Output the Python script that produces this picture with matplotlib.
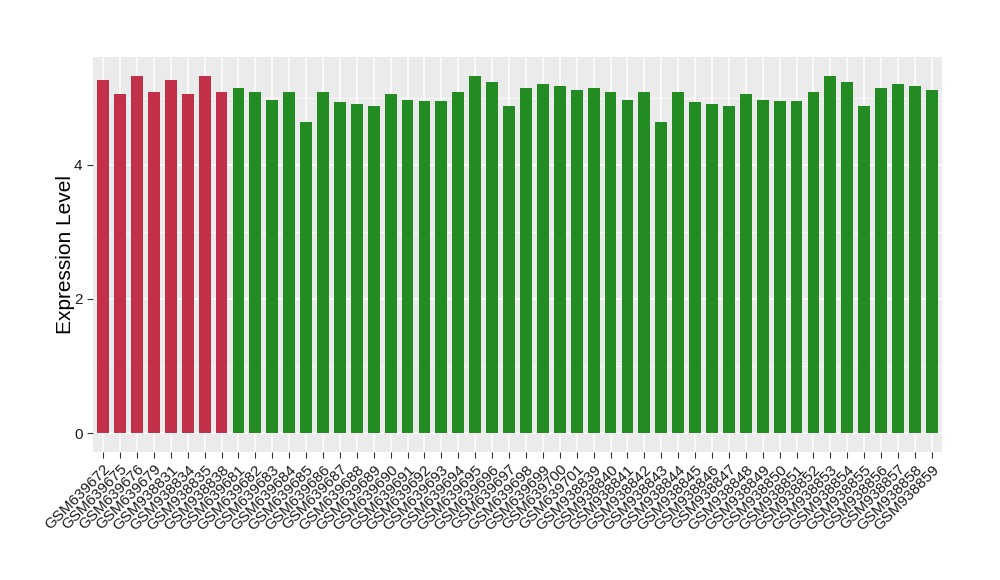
import matplotlib
matplotlib.use("Agg")
import matplotlib.pyplot as plt
import numpy as np

plt.rcParams['font.family'] = ['Liberation Sans', 'DejaVu Sans']

# sample ids
samples = ["GSM639672", "GSM639675", "GSM639676", "GSM639679",
           "GSM938831", "GSM938834", "GSM938835", "GSM938838"]
samples += ["GSM6396%02d" % i for i in range(81, 100)] + ["GSM639700", "GSM639701"]
samples += ["GSM9388%02d" % i for i in range(39, 60)]

values = [5.26, 5.06, 5.32, 5.08, 5.26, 5.06, 5.32, 5.08,
          5.15, 5.08, 4.96, 5.09, 4.64, 5.08, 4.93, 4.91, 4.87, 5.05,
          4.96, 4.95, 4.95, 5.09, 5.33, 5.24, 4.87, 5.14, 5.20, 5.18,
          5.12, 5.15, 5.08, 4.96, 5.09, 4.64, 5.08, 4.93, 4.91, 4.87,
          5.05, 4.96, 4.95, 4.95, 5.09, 5.33, 5.24, 4.87, 5.14, 5.20,
          5.18, 5.12]
n_red = 8

colors = ["#C3304A"] * n_red + ["#228B22"] * (len(values) - n_red)

fig = plt.figure(figsize=(10, 5.8), dpi=100)
ax = fig.add_axes([0.093, 0.221, 0.849, 0.681])
ax.set_facecolor("#EBEBEB")

x = np.arange(len(values))
ax.bar(x, values, width=0.7, color=colors, zorder=3)

ax.set_xlim(-0.6, len(values) - 0.4)
ax.set_ylim(-0.28, 5.61)
ax.set_yticks([0, 2, 4])
ax.set_yticks([1, 3, 5], minor=True)
ax.set_xticks(x)
ax.set_xticklabels(samples, rotation=45, ha="right", rotation_mode="anchor")

ax.grid(True, which="major", color="white", linewidth=1.1, zorder=0)
ax.grid(True, which="minor", axis="y", color="white", linewidth=0.5, zorder=0)
ax.set_axisbelow(True)
for s in ax.spines.values():
    s.set_visible(False)

ax.tick_params(axis="both", which="major", length=4, color="#333333",
               labelsize=11, labelcolor="#1A1A1A")
ax.tick_params(axis="y", which="minor", length=0)
ax.set_ylabel("Expression Level", fontsize=15, labelpad=-1)

fig.savefig("out.png", dpi=100)
